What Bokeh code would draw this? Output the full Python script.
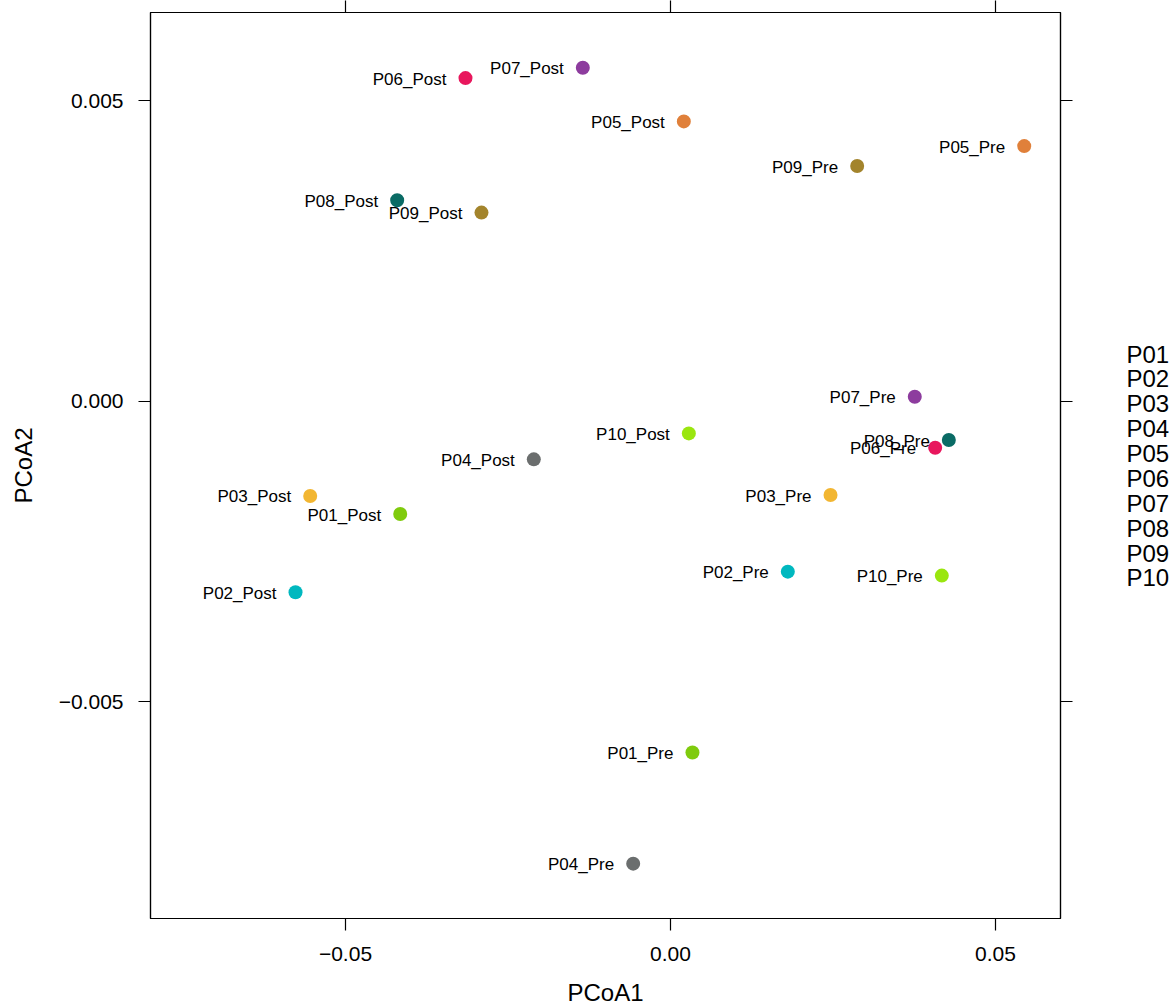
from bokeh.plotting import figure
from bokeh.layouts import row
from bokeh.models import (ColumnDataSource, LinearAxis, FixedTicker, CustomJSTickFormatter,
                          Range1d)
from bokeh.core.properties import value
from bokeh.embed import file_html
from bokeh.resources import INLINE

# ---- data ----
samples = ["P01_Pre", "P01_Post", "P02_Pre", "P02_Post", "P03_Pre", "P03_Post",
           "P04_Pre", "P04_Post", "P05_Pre", "P05_Post", "P06_Pre", "P06_Post",
           "P07_Pre", "P07_Post", "P08_Pre", "P08_Post", "P09_Pre", "P09_Post",
           "P10_Pre", "P10_Post"]
subjects = ["P01", "P01", "P02", "P02", "P03", "P03", "P04", "P04", "P05", "P05",
            "P06", "P06", "P07", "P07", "P08", "P08", "P09", "P09", "P10", "P10"]
pcoa1 = [0.00338, -0.04158, 0.01805, -0.05769, 0.02462, -0.05543,
         -0.00574, -0.02103, 0.05442, 0.00205, 0.04072, -0.03154,
         0.03758, -0.01349, 0.04282, -0.04205, 0.02872, -0.02908,
         0.04174, 0.00282]
pcoa2 = [-0.005847, -0.001879, -0.002838, -0.003180, -0.001563, -0.001579,
         -0.007697, -0.000969, 0.004244, 0.004655, -0.000776, 0.005375,
         0.0000715, 0.005548, -0.000648, 0.003342, 0.003912, 0.003137,
         -0.002904, -0.000537]
legend_labels = ["P01", "P02", "P03", "P04", "P05", "P06", "P07", "P08", "P09", "P10"]
palette = {"P01": "#7FCB0D", "P02": "#00B8BF", "P03": "#F2B632", "P04": "#6B6E6E",
           "P05": "#E0803A", "P06": "#E8175D", "P07": "#8D3C9E", "P08": "#0A6B65",
           "P09": "#A3842C", "P10": "#9AE60F"}
x_ticks = [-0.05, 0.0, 0.05]
y_ticks = [-0.005, 0.0, 0.005]
XMIN, XMAX = -0.080, 0.060
YMIN, YMAX = -0.00861, 0.006467

FONT = "Liberation Sans"
PAGE_H = 1008
MAIN_W = 1090
LEG_W = 1176 - MAIN_W
FRAME_TOP = 12
FRAME_BOTTOM = PAGE_H - 89

src = ColumnDataSource(dict(x=pcoa1, y=pcoa2, label=samples,
                            color=[palette[s] for s in subjects]))

p = figure(width=MAIN_W, height=PAGE_H, output_backend="svg", toolbar_location=None,
           x_range=Range1d(XMIN, XMAX), y_range=Range1d(YMIN, YMAX),
           min_border_left=150, min_border_top=FRAME_TOP, min_border_right=30,
           min_border_bottom=PAGE_H - FRAME_BOTTOM,
           x_axis_location=None, y_axis_location=None)
p.grid.visible = False
p.outline_line_color = "black"
p.outline_line_width = 1.2
p.background_fill_color = "white"
p.border_fill_color = "white"

xfmt = CustomJSTickFormatter(code="""
    const s = Math.abs(tick).toFixed(2);
    return (tick < -1e-12 ? "\u2212" : "") + s;
""")
yfmt = CustomJSTickFormatter(code="""
    const s = Math.abs(tick).toFixed(3);
    return (tick < -1e-12 ? "\u2212" : "") + s;
""")
blankfmt = CustomJSTickFormatter(code='return "";')

bottom = LinearAxis(axis_label="PCoA1", formatter=xfmt, ticker=FixedTicker(ticks=x_ticks))
top = LinearAxis(formatter=blankfmt, ticker=FixedTicker(ticks=x_ticks))
left = LinearAxis(axis_label="PCoA2", formatter=yfmt, ticker=FixedTicker(ticks=y_ticks))
right = LinearAxis(formatter=blankfmt, ticker=FixedTicker(ticks=y_ticks))

for ax in [bottom, top, left, right]:
    ax.axis_line_color = "black"
    ax.axis_line_width = 1.2
    ax.major_tick_line_color = "black"
    ax.major_tick_line_width = 1.2
    ax.major_tick_in = 0
    ax.major_tick_out = 12
    ax.minor_tick_line_color = None
    ax.major_label_text_font = FONT
    ax.major_label_text_color = "black"
    ax.axis_label_text_font = FONT
    ax.axis_label_text_font_style = "normal"
    ax.axis_label_text_color = "black"

bottom.major_label_text_font_size = "21px"
bottom.major_label_standoff = 16
bottom.axis_label_text_font_size = "24px"
bottom.axis_label_standoff = 15

left.major_label_text_font_size = "21px"
left.major_label_standoff = 15
left.axis_label_text_font_size = "24px"
left.axis_label_standoff = 19

for ax in [top, right]:
    ax.major_label_text_font_size = "1px"
    ax.major_label_standoff = 0

p.add_layout(bottom, "below")
p.add_layout(top, "above")
p.add_layout(left, "left")
p.add_layout(right, "right")

p.scatter("x", "y", source=src, size=14, fill_color="color", line_color=None)
p.text("x", "y", text="label", source=src, text_align="right", text_baseline="middle",
       x_offset=-19, y_offset=1, text_font=value(FONT), text_font_size="17px",
       text_color="black")

# ---- key (text only, as in the reference) in a narrow side panel ----
# the row aligns this panel's frame with the main frame, so map its y range to page pixels
leg = figure(width=LEG_W, height=PAGE_H, output_backend="svg", toolbar_location=None,
             x_range=Range1d(0, LEG_W), y_range=Range1d(FRAME_BOTTOM, FRAME_TOP),
             min_border=0, x_axis_location=None, y_axis_location=None)
leg.grid.visible = False
leg.outline_line_color = None
leg.background_fill_color = "white"
leg.border_fill_color = "white"
leg_src = ColumnDataSource(dict(
    x=[1126 - MAIN_W] * len(legend_labels),
    y=[354 + i * 24.9 for i in range(len(legend_labels))],
    text=legend_labels))
leg.text("x", "y", text="text", source=leg_src, text_align="left", text_baseline="middle",
         text_font=value(FONT), text_font_size="24px", text_color="black")

layout = row(p, leg, spacing=0)
open("out.html", "w").write(file_html(layout, INLINE))
